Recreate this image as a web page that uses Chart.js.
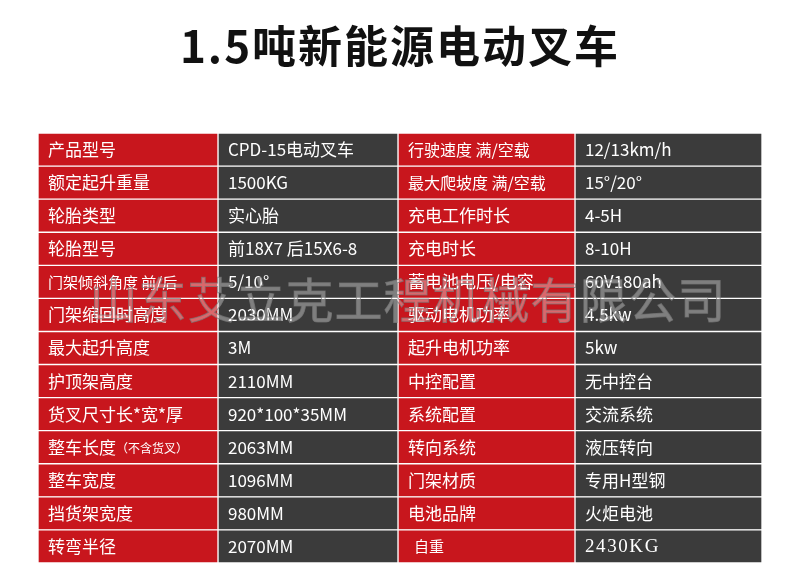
<!DOCTYPE html>
<html>
<head>
<meta charset="utf-8">
<script src="https://cdn.jsdelivr.net/npm/chart.js@4"></script>
<style>
  body { margin: 0; background: #fff; }
  #wrap { position: relative; width: 800px; height: 588px; }
  #title { position: absolute; top: 12px; left: 0; width: 800px; text-align: center;
    font: bold 44px "Noto Sans CJK SC", sans-serif; color: #111; letter-spacing: 2px; }
  #mark { position: absolute; top: 262px; left: 0; width: 816px; text-align: center;
    font: 48px "Noto Sans CJK SC", sans-serif; color: rgba(255,255,255,0.35);
    -webkit-text-stroke: 1px rgba(120,120,120,0.7); letter-spacing: 1px; pointer-events: none; }
</style>
</head>
<body>
<div id="wrap">
  <div id="title">1.5吨新能源电动叉车</div>
  <canvas id="spec" width="800" height="588"></canvas>
  <div id="mark">山东艾立克工程机械有限公司</div>
</div>
<script>
// table contents, one array per column
var names1 = ["产品型号", "额定起升重量", "轮胎类型", "轮胎型号", "门架倾斜角度 前/后", "门架缩回时高度", "最大起升高度",
  "护顶架高度", "货叉尺寸长*宽*厚", "整车长度（不含货叉）", "整车宽度", "挡货架宽度", "转弯半径"];
var values1 = ["CPD-15电动叉车", "1500KG", "实心胎", "前18X7 后15X6-8", "5/10°", "2030MM", "3M",
  "2110MM", "920*100*35MM", "2063MM", "1096MM", "980MM", "2070MM"];
var names2 = ["行驶速度 满/空载", "最大爬坡度 满/空载", "充电工作时长", "充电时长", "蓄电池电压/电容", "驱动电机功率", "起升电机功率",
  "中控配置", "系统配置", "转向系统", "门架材质", "电池品牌", "自重"];
var values2 = ["12/13km/h", "15°/20°", "4-5H", "8-10H", "60V180ah", "4.5kw", "5kw",
  "无中控台", "交流系统", "液压转向", "专用H型钢", "火炬电池", "2430KG"];

var columns = [names1, values1, names2, values2];
var colWidths = [180, 180, 177, 187];
var colColors = ['#c8161d', '#3b3b3b', '#c8161d', '#3b3b3b'];

var rowLabels = names1.map(function (n, i) { return 'r' + i; });

var cellText = {
  id: 'cellText',
  afterDatasetsDraw: function (chart) {
    var ctx = chart.ctx;
    ctx.save();
    ctx.fillStyle = '#fff';
    ctx.textBaseline = 'middle';
    ctx.textAlign = 'left';
    chart.data.datasets.forEach(function (ds, c) {
      var meta = chart.getDatasetMeta(c);
      meta.data.forEach(function (el, r) {
        var t = columns[c][r];
        var left = Math.min(el.x, el.base);
        var size = 17;
        var font = '"Noto Sans CJK SC", sans-serif';
        if (c === 0 && r === 4) size = 15;
        if (c === 2 && (r === 0 || r === 1)) size = 16;
        if (c === 2 && r === 12) size = 15;
        if (c === 3 && r === 12) { font = '"Liberation Serif", serif'; size = 19; }
        ctx.font = size + 'px ' + font;
        if (c === 0 && r === 9) {
          ctx.fillText('整车长度', left + 10, el.y);
          var w = ctx.measureText('整车长度').width;
          ctx.font = '12px ' + font;
          ctx.fillText('（不含货叉）', left + 10 + w, el.y + 1);
        } else if (c === 3 && r === 12) {
          ctx.fillText('2 4 3 0 K G'.replace(/ /g, '\u200a'), left + 10, el.y + 1);
        } else {
          ctx.fillText(t, left + (c === 2 && r === 12 ? 16 : 10), el.y);
        }
      });
    });
    ctx.restore();
  }
};

new Chart(document.getElementById('spec').getContext('2d'), {
  type: 'bar',
  data: {
    labels: rowLabels,
    datasets: colWidths.map(function (w, c) {
      return {
        data: rowLabels.map(function () { return w; }),
        backgroundColor: colColors[c],
        borderColor: '#ffffff',
        borderWidth: 1,
        borderSkipped: false,
        barPercentage: 1,
        categoryPercentage: 1
      };
    })
  },
  options: {
    indexAxis: 'y',
    responsive: false,
    animation: false,
    layout: { padding: { left: 38, right: 38, top: 133, bottom: 25 } },
    plugins: { legend: { display: false }, tooltip: { enabled: false } },
    scales: {
      x: { stacked: true, min: 0, max: 724, display: false },
      y: { stacked: true, display: false }
    }
  },
  plugins: [cellText]
});
</script>
</body>
</html>
